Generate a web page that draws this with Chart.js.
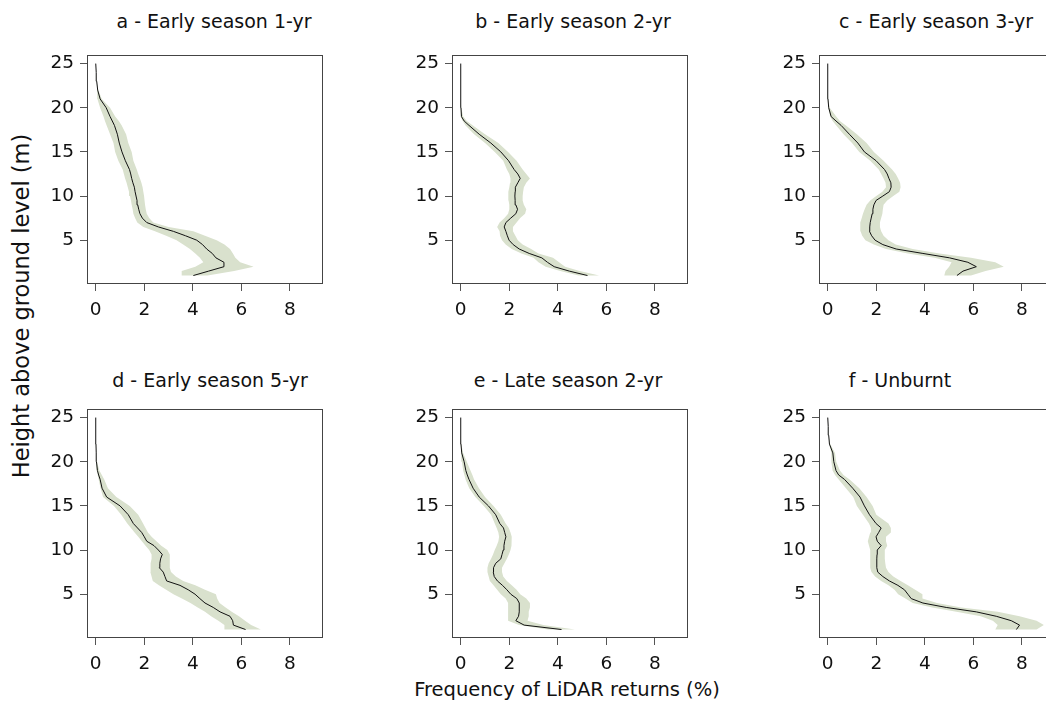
<!DOCTYPE html>
<html>
<head>
<meta charset="utf-8">
<script src="https://cdn.jsdelivr.net/npm/chart.js@4.4.1/dist/chart.umd.min.js"></script>
<style>
  html, body { margin: 0; padding: 0; background: #fff; overflow: hidden; width: 1046px; height: 712px; }
  .panel { position: absolute; }
  .lbl { position: absolute; font-family: "DejaVu Sans", sans-serif; color: #111; line-height: 1;
         white-space: nowrap; transform: translate(-50%, -50%); }
</style>
</head>
<body>
<div class="lbl" style="left:567px; top:690px; font-size:19.5px;">Frequency of LiDAR returns (%)</div>
<div class="lbl" style="left:21px; top:306px; font-size:22.5px; transform: translate(-50%, -50%) rotate(-90deg);">Height above ground level (m)</div>
<script>
// heights (m) shared by all profiles
const heights = [1, 1.5, 2, 2.5, 3, 3.5, 4, 4.5, 5, 5.5, 6, 6.5, 7, 7.5, 8, 8.5, 9, 9.5, 10, 10.5,
                 11, 11.5, 12, 12.5, 13, 14, 15, 16, 17, 18, 18.5, 19, 20, 21, 22, 23, 24, 25];
const xTicks = [0, 2, 4, 6, 8];
const yTicks = [5, 10, 15, 20, 25];

// a - Early season 1-yr
const meanA = [4.02, 4.65, 5.28, 5.28, 4.95, 4.8, 4.57, 4.4, 4.16, 3.7, 3.2, 2.58, 2.1, 1.92, 1.82, 1.77, 1.73, 1.7, 1.66, 1.62,
               1.59, 1.53, 1.48, 1.44, 1.39, 1.22, 1.08, 0.97, 0.89, 0.77, 0.68, 0.59, 0.43, 0.18, 0.08, 0.04, 0.02, 0];
const loA = [3.54, 3.54, 4.1, 4.43, 4.29, 4.1, 3.88, 3.6, 3.33, 2.9, 2.44, 1.96, 1.71, 1.62, 1.55, 1.52, 1.48, 1.45, 1.41, 1.37,
             1.32, 1.27, 1.21, 1.16, 1.11, 0.93, 0.8, 0.73, 0.59, 0.45, 0.38, 0.32, 0.18, 0.07, 0.06, 0.04, 0.02, 0];
const hiA = [4.6, 5.7, 6.5, 5.95, 5.75, 5.65, 5.53, 5.3, 4.98, 4.5, 4.02, 3.0, 2.37, 2.2, 2.1, 2.06, 2.03, 2.01, 1.99, 1.96,
             1.93, 1.88, 1.82, 1.75, 1.69, 1.55, 1.48, 1.34, 1.25, 1.07, 0.95, 0.8, 0.59, 0.25, 0.1, 0.04, 0.02, 0];

// b - Early season 2-yr
const meanB = [5.22, 4.47, 3.85, 3.57, 3.34, 2.82, 2.41, 2.16, 1.99, 1.92, 1.86, 1.79, 1.86, 2.06, 2.27, 2.34, 2.27, 2.24, 2.23, 2.24,
               2.25, 2.35, 2.45, 2.35, 2.2, 1.97, 1.65, 1.24, 0.76, 0.34, 0.14, 0.03, 0.01, 0, 0, 0, 0, 0];
const loB = [4.85, 4.1, 3.5, 3.2, 3.0, 2.5, 2.1, 1.85, 1.7, 1.62, 1.6, 1.5, 1.6, 1.8, 1.95, 2.0, 2.0, 1.97, 1.95, 1.97,
             2.0, 2.03, 2.05, 2.0, 1.9, 1.75, 1.4, 1.0, 0.55, 0.2, 0.08, 0, 0, 0, 0, 0, 0, 0];
const hiB = [5.7, 4.9, 4.3, 4.05, 3.8, 3.2, 2.9, 2.55, 2.35, 2.25, 2.15, 2.15, 2.3, 2.45, 2.65, 2.7, 2.6, 2.55, 2.55, 2.57,
             2.6, 2.7, 2.85, 2.7, 2.55, 2.3, 1.95, 1.55, 1.0, 0.5, 0.25, 0.1, 0.02, 0, 0, 0, 0, 0];

// c - Early season 3-yr
const meanC = [5.32, 5.57, 6.12, 5.77, 5.02, 3.92, 2.82, 2.27, 1.95, 1.81, 1.72, 1.73, 1.75, 1.79, 1.83, 1.86, 1.9, 1.99, 2.27, 2.54,
               2.61, 2.6, 2.52, 2.45, 2.34, 1.99, 1.51, 1.24, 0.89, 0.55, 0.34, 0.14, 0.04, 0.01, 0, 0, 0, 0];
const loC = [4.8, 4.85, 5.0, 5.1, 4.4, 3.3, 2.4, 1.9, 1.55, 1.42, 1.35, 1.33, 1.35, 1.4, 1.45, 1.52, 1.6, 1.75, 2.0, 2.25,
             2.4, 2.38, 2.3, 2.2, 2.1, 1.75, 1.3, 1.0, 0.65, 0.35, 0.2, 0.1, 0.02, 0, 0, 0, 0, 0];
const hiC = [5.9, 6.5, 7.25, 6.9, 5.9, 4.6, 3.5, 2.8, 2.5, 2.3, 2.2, 2.15, 2.15, 2.2, 2.25, 2.27, 2.3, 2.45, 2.7, 2.95,
             3.0, 2.98, 2.9, 2.8, 2.65, 2.3, 1.9, 1.6, 1.2, 0.75, 0.5, 0.35, 0.08, 0.02, 0, 0, 0, 0];

// d - Early season 5-yr
const meanD = [6.17, 5.67, 5.64, 5.53, 5.12, 4.84, 4.5, 4.29, 4.09, 3.81, 3.47, 2.92, 2.85, 2.78, 2.62, 2.64, 2.67, 2.74, 2.58, 2.4,
               2.1, 2.0, 1.89, 1.72, 1.55, 1.34, 1.0, 0.45, 0.26, 0.18, 0.12, 0.07, 0.03, 0.02, 0.01, 0, 0, 0];
const loD = [5.3, 5.3, 5.05, 4.75, 4.5, 4.2, 3.9, 3.55, 3.2, 2.9, 2.6, 2.35, 2.3, 2.25, 2.25, 2.27, 2.3, 2.3, 2.2, 2.05,
             1.9, 1.75, 1.6, 1.45, 1.3, 1.05, 0.75, 0.3, 0.2, 0.12, 0.08, 0.05, 0.03, 0.02, 0.01, 0, 0, 0];
const hiD = [6.8, 6.4, 6.15, 5.9, 5.6, 5.35, 5.1, 5.0, 4.95, 4.5, 4.1, 3.6, 3.3, 3.1, 3.05, 3.05, 3.05, 3.05, 2.95, 2.7,
             2.5, 2.3, 2.15, 2.05, 1.95, 1.75, 1.4, 0.85, 0.5, 0.35, 0.25, 0.15, 0.05, 0.02, 0.01, 0, 0, 0];

// e - Late season 2-yr
const meanE = [4.15, 2.61, 2.27, 2.38, 2.41, 2.41, 2.41, 2.31, 2.06, 1.9, 1.72, 1.51, 1.38, 1.34, 1.35, 1.44, 1.65, 1.7, 1.75, 1.78,
               1.81, 1.86, 1.81, 1.76, 1.61, 1.44, 1.14, 0.76, 0.51, 0.34, 0.27, 0.21, 0.14, 0.04, 0.01, 0, 0, 0];
const loE = [3.6, 2.4, 1.95, 1.95, 1.95, 1.95, 1.95, 1.85, 1.65, 1.5, 1.35, 1.2, 1.15, 1.1, 1.1, 1.15, 1.25, 1.33, 1.4, 1.48,
             1.55, 1.58, 1.55, 1.48, 1.4, 1.25, 0.95, 0.6, 0.35, 0.2, 0.15, 0.1, 0.05, 0.02, 0, 0, 0, 0];
const hiE = [4.7, 3.4, 2.75, 2.8, 2.8, 2.85, 2.85, 2.7, 2.45, 2.3, 2.1, 1.9, 1.75, 1.7, 1.7, 1.8, 1.9, 1.98, 2.05, 2.08,
             2.1, 2.1, 2.05, 1.98, 1.85, 1.65, 1.35, 1.0, 0.75, 0.55, 0.48, 0.4, 0.25, 0.1, 0.02, 0, 0, 0];

// f - Unburnt
const meanF = [7.77, 7.9, 7.56, 6.94, 6.12, 4.88, 3.92, 3.44, 3.3, 3.16, 2.89, 2.54, 2.27, 2.06, 2.02, 2.02, 2.02, 2.03, 2.04, 2.2,
               2.04, 1.99, 2.1, 2.2, 1.99, 1.72, 1.51, 1.33, 1.03, 0.69, 0.45, 0.34, 0.25, 0.21, 0.07, 0.04, 0.02, 0];
const loF = [6.9, 7.0, 6.8, 6.3, 5.3, 4.3, 3.5, 3.2, 2.9, 2.75, 2.5, 2.2, 1.95, 1.8, 1.75, 1.75, 1.75, 1.75, 1.75, 1.7,
             1.65, 1.7, 1.75, 1.78, 1.7, 1.45, 1.2, 1.05, 0.75, 0.45, 0.3, 0.2, 0.15, 0.15, 0.06, 0.04, 0.02, 0];
const hiF = [8.6, 8.9, 8.6, 7.9, 7.0, 5.5, 4.5, 3.9, 3.9, 3.6, 3.3, 3.0, 2.7, 2.5, 2.4, 2.37, 2.35, 2.35, 2.35, 2.45,
             2.4, 2.4, 2.6, 2.6, 2.5, 2.0, 1.85, 1.6, 1.3, 0.9, 0.65, 0.5, 0.35, 0.3, 0.1, 0.04, 0.02, 0];

const panels = [
  { title: "a - Early season 1-yr", mean: meanA, lo: loA, hi: hiA, left: 87,  top: 48,  tx: 214, ty: 21 },
  { title: "b - Early season 2-yr", mean: meanB, lo: loB, hi: hiB, left: 452, top: 48,  tx: 573, ty: 21 },
  { title: "c - Early season 3-yr", mean: meanC, lo: loC, hi: hiC, left: 819, top: 48,  tx: 936, ty: 21 },
  { title: "d - Early season 5-yr", mean: meanD, lo: loD, hi: hiD, left: 87,  top: 402, tx: 210, ty: 380 },
  { title: "e - Late season 2-yr",  mean: meanE, lo: loE, hi: hiE, left: 452, top: 402, tx: 568, ty: 380 },
  { title: "f - Unburnt",           mean: meanF, lo: loF, hi: hiF, left: 819, top: 402, tx: 900, ty: 380 }
];

const AXW = 70;   // room for y ticks
const PADT = 10;
const BOX = 236;
const tickFont = { family: "DejaVu Sans", size: 18.5 };

// R style box around the plot region
const boxPlugin = {
  id: "box",
  afterDraw(chart) {
    const a = chart.chartArea;
    const ctx = chart.ctx;
    ctx.save();
    ctx.strokeStyle = "#444";
    ctx.lineWidth = 1;
    ctx.strokeRect(Math.round(a.left) + 0.5, Math.round(a.top) + 0.5,
                   Math.round(a.right - a.left) - 1, Math.round(a.bottom - a.top) - 1);
    ctx.restore();
  }
};

function makePanel(p) {
  const wrap = document.createElement("div");
  wrap.className = "panel";
  wrap.style.left = (p.left - AXW) + "px";
  wrap.style.top = (p.top - PADT) + "px";
  wrap.style.width = (AXW + BOX + 10) + "px";
  wrap.style.height = (PADT + BOX + 50) + "px";
  const cv = document.createElement("canvas");
  wrap.appendChild(cv);
  document.body.appendChild(wrap);

  const t = document.createElement("div");
  t.className = "lbl";
  t.style.left = p.tx + "px";
  t.style.top = p.ty + "px";
  t.style.fontSize = "19px";
  t.textContent = p.title;
  document.body.appendChild(t);

  const line = p.mean.map((v, i) => ({ x: v, y: heights[i] }));
  const band = p.lo.map((v, i) => ({ x: v, y: heights[i] }));
  for (let i = heights.length - 1; i >= 0; i--) {
    band.push({ x: p.hi[i], y: heights[i] });
  }

  new Chart(cv, {
    type: "line",
    data: {
      datasets: [
        { data: line, borderColor: "#111", borderWidth: 1, pointRadius: 0, fill: false, tension: 0, order: 0 },
        { data: band, borderWidth: 0, backgroundColor: "#d9e1cd", pointRadius: 0, fill: "shape", tension: 0, order: 1 }
      ]
    },
    options: {
      responsive: true,
      maintainAspectRatio: false,
      animation: false,
      layout: { padding: { left: 0, top: PADT, right: 10, bottom: 0 } },
      plugins: { legend: { display: false }, tooltip: { enabled: false } },
      scales: {
        x: {
          type: "linear", min: -0.36, max: 9.36,
          afterBuildTicks: s => { s.ticks = xTicks.map(v => ({ value: v })); },
          afterFit: s => { s.height = 50; },
          grid: { drawOnChartArea: false, drawTicks: true, tickLength: 7, color: "#555" },
          border: { display: false },
          ticks: { font: tickFont, color: "#111", padding: 8, maxRotation: 0 }
        },
        y: {
          type: "linear", min: 0.04, max: 25.96,
          afterBuildTicks: s => { s.ticks = yTicks.map(v => ({ value: v })); },
          afterFit: s => { s.width = AXW; },
          grid: { drawOnChartArea: false, drawTicks: true, tickLength: 7, color: "#555" },
          border: { display: false },
          ticks: { font: tickFont, color: "#111", padding: 6 }
        }
      }
    },
    plugins: [boxPlugin]
  });
}

panels.forEach(makePanel);
</script>
</body>
</html>
